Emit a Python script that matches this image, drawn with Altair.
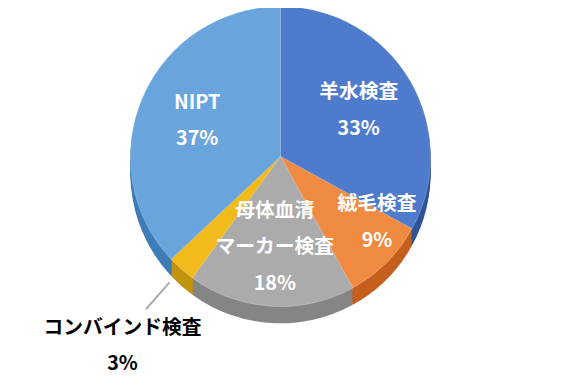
import altair as alt
import pandas as pd

names = ["羊水検査", "絨毛検査", "母体血清\nマーカー検査", "コンバインド検査", "NIPT"]
values = [33, 9, 18, 3, 37]
top_colors = ["#4E7BCB", "#F08A40", "#ABABAB", "#F2BA1A", "#69A5DC"]
side_colors = ["#2F5597", "#C55F1D", "#858585", "#C29310", "#3F7DB8"]
inside = [True, True, True, False, True]

df = pd.DataFrame({
    "idx": list(range(len(names))),
    "name": names,
    "value": values,
    "top": top_colors,
    "side": side_colors,
    "inside": inside,
})

R = 152
DEPTH = 17

base = alt.Chart(df).transform_window(
    cum="sum(value)", frame=[None, 0], sort=[alt.SortField("idx")]
).transform_calculate(
    t1="(datum.cum - datum.value) / 100 * 2 * PI",
    t2="datum.cum / 100 * 2 * PI",
    tm="(datum.cum - datum.value / 2) / 100 * 2 * PI",
    label="datum.name + '\\n' + datum.value + '%'",
)

layers = []
for off in range(DEPTH, 0, -2):
    layers.append(
        base.mark_arc(radius=R, yOffset=off).encode(
            theta=alt.Theta("t1:Q", scale=None),
            theta2=alt.Theta2("t2:Q"),
            color=alt.Color("side:N", scale=None),
        )
    )

top = base.mark_arc(radius=R, stroke="#FFFFFF", strokeWidth=0.4, strokeOpacity=0.6).encode(
    theta=alt.Theta("t1:Q", scale=None),
    theta2=alt.Theta2("t2:Q"),
    color=alt.Color("top:N", scale=None),
)
layers.append(top)

txt = dict(lineBreak="\n", lineHeight=37, font="Noto Sans CJK JP", fontSize=20,
           fontWeight="bold", align="center", baseline="middle")

lab_two = base.transform_filter("datum.inside && datum.idx != 1 && datum.idx != 2").mark_text(
    radius=92, dy=-18, color="white", **txt
).encode(theta=alt.Theta("tm:Q", scale=None), text="label:N")

lab_three = base.transform_filter("datum.idx == 2").mark_text(
    radius=92, dy=-37, color="white", **txt
).encode(theta=alt.Theta("tm:Q", scale=None), text="label:N")

lab_chorion = base.transform_filter("datum.idx == 1").mark_text(
    radius=118, dy=-18, thetaOffset=-0.19, color="white", **txt
).encode(theta=alt.Theta("tm:Q", scale=None), text="label:N")

leader = base.transform_filter("!datum.inside").transform_calculate(
    la="datum.tm - 0.005", lb="datum.tm + 0.005"
).mark_arc(radius=170, radius2=206, color="#A6A6A6").encode(
    theta=alt.Theta("la:Q", scale=None),
    theta2=alt.Theta2("lb:Q"),
)

lab_out = base.transform_filter("!datum.inside").mark_text(
    radius=242, dy=-8, color="black", **txt
).encode(theta=alt.Theta("tm:Q", scale=None), text="label:N")

layers += [lab_two, lab_three, lab_chorion, leader, lab_out]

chart = alt.layer(*layers).properties(
    width=552,
    height=296,
    autosize=alt.AutoSizeParams(type="none"),
    padding={"left": 0, "top": 0, "right": 0, "bottom": 78},
).configure_view(stroke=None)

chart.save("out.html", embed_options={"renderer": "svg", "actions": False})
